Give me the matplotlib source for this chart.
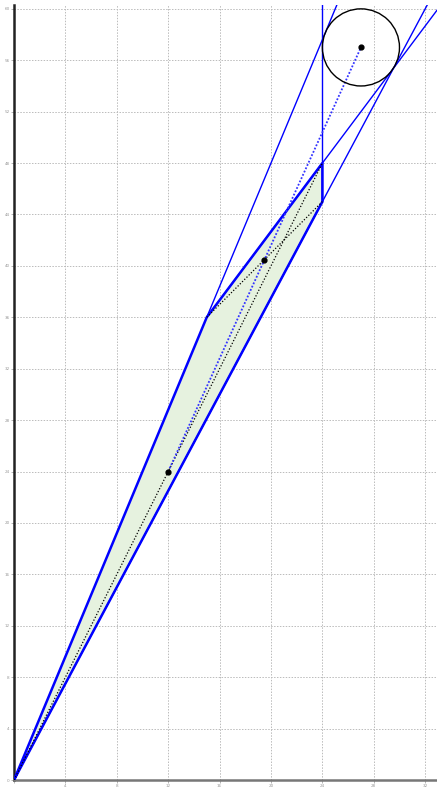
import numpy as np
import matplotlib
matplotlib.use("Agg")
import matplotlib.pyplot as plt
from matplotlib.patches import Polygon, Circle

# polygon vertices (feasible region)
poly_x = [0, 15, 24, 24]
poly_y = [0, 36, 48, 45]

# constraint lines: start vertex index, slope (None = vertical)
line_start = [1, 1, 3, 0]
line_slopes = [2.4, 4 / 3, None, 1.875]

# marked points
pts_x = [12, 19.45]
pts_y = [24, 40.45]

# inscribed circle
circle_center = (27, 57)
circle_r = 3

x_ticks = list(range(0, 33, 4))
y_ticks = list(range(0, 61, 4))

fig = plt.figure(figsize=(4.37, 7.88), dpi=100)
ax = fig.add_axes([14 / 437, 8 / 788, 423 / 437, 775 / 788])
ax.set_xlim(0, 32.92)
ax.set_ylim(0, 60.3)

blue = "#0000ff"

# shaded region
ax.add_patch(Polygon(list(zip(poly_x, poly_y)), closed=True,
                     facecolor="#e6f2df", edgecolor="none", zorder=1))

# thin extended lines, from a vertex outwards
for i, m in zip(line_start, line_slopes):
    x0, y0 = poly_x[i], poly_y[i]
    if m is None:
        ax.plot([x0, x0], [y0, 62], color=blue, lw=1, zorder=2)
    else:
        ax.plot([x0, 34], [y0, y0 + m * (34 - x0)], color=blue, lw=1, zorder=2)

# thick polygon edges
ax.plot(poly_x + [poly_x[0]], poly_y + [poly_y[0]], color=blue, lw=1.8, zorder=3)

# diagonals
ax.plot([poly_x[0], poly_x[2]], [poly_y[0], poly_y[2]], color="black",
        lw=0.9, ls=(0, (1, 1.5)), zorder=4)
ax.plot([poly_x[1], poly_x[3]], [poly_y[1], poly_y[3]], color="black",
        lw=0.9, ls=(0, (1, 1.5)), zorder=4)

# path to circle center
ax.plot([pts_x[0], circle_center[0]], [pts_y[0], circle_center[1]],
        color="#3333ff", lw=1.3, ls=(0, (1, 1)), zorder=4)

ax.add_patch(Circle(circle_center, circle_r, fill=False, color="black",
                    lw=1, zorder=5))
ax.scatter(pts_x + [circle_center[0]], pts_y + [circle_center[1]],
           s=12, color="black", zorder=6)

ax.set_xticks(x_ticks)
ax.set_yticks(y_ticks)
ax.set_xticklabels(["" if v == 0 else str(v) for v in x_ticks])
ax.tick_params(labelsize=3, length=2, width=0.5, colors="#999999", pad=1)
ax.grid(True, ls=(0, (1.5, 1.5)), color="#bbbbbb", lw=0.7)
ax.set_axisbelow(True)

for s in ["top", "right"]:
    ax.spines[s].set_visible(False)
ax.spines["left"].set_color("#222222")
ax.spines["left"].set_linewidth(1.8)
ax.spines["bottom"].set_color("#777777")
ax.spines["bottom"].set_linewidth(1.8)

fig.savefig("out.png", dpi=100)
